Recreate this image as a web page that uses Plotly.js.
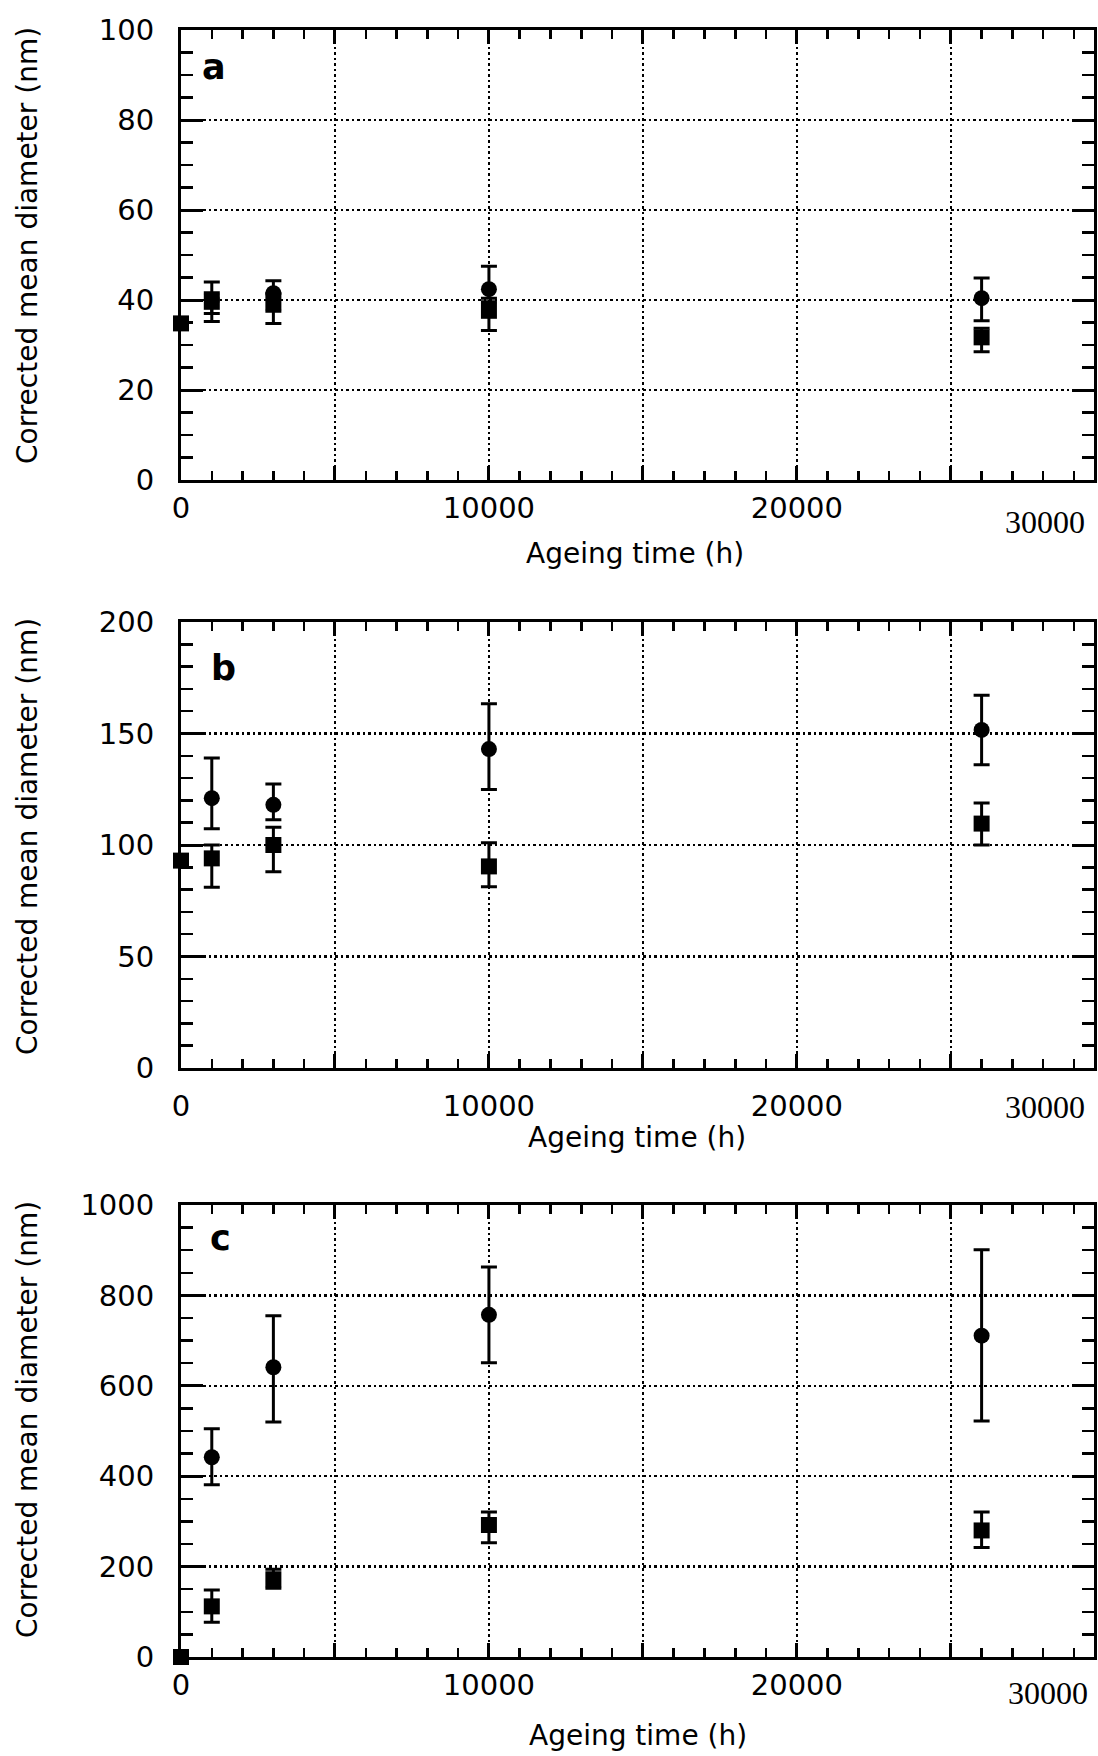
<!DOCTYPE html>
<html><head><meta charset="utf-8">
<script src="https://cdn.plot.ly/plotly-3.0.1.min.js"></script>
<style>html,body{margin:0;padding:0;background:#fff}</style>
</head><body>
<div id="chart" style="width:1098px;height:1756px"></div>
<script>
// ---- data ----
const xTickVals = [0, 5000, 10000, 15000, 20000, 25000];
const xTickText = ['0', '', '10000', '', '20000', ''];
const xMax = 29650;

const timeCircle = [1000, 3000, 10000, 26000];
const timeSquare = [0, 1000, 3000, 10000, 26000];

// panel a
const aCircle      = [40, 41.5, 42.4, 40.4];
const aCirclePlus  = [4, 2.8, 5.1, 4.5];
const aCircleMinus = [3, 4, 2, 5];
const aSquare      = [34.8, 39.6, 39.5, 37.6, 31.7];
const aSquarePlus  = [0, 2, 2, 2, 2];
const aSquareMinus = [0, 4.4, 4.7, 4.4, 3.2];
const aTicks = [0, 20, 40, 60, 80, 100];

// panel b
const bCircle      = [121, 118, 143, 151.6];
const bCirclePlus  = [18, 9.4, 20.3, 15.6];
const bCircleMinus = [13.7, 6.7, 18.1, 15.6];
const bSquare      = [93, 94, 100, 90.4, 109.6];
const bSquarePlus  = [0, 6, 8, 10.6, 9.2];
const bSquareMinus = [0, 13, 12, 9.1, 9.6];
const bTicks = [0, 50, 100, 150, 200];

// panel c
const cCircle      = [442, 641, 757, 711];
const cCirclePlus  = [63, 114, 106, 190];
const cCircleMinus = [61, 121, 106, 189];
const cSquare      = [0, 112, 172, 292, 280];
const cSquarePlus  = [0, 36, 22, 29, 41];
const cSquareMinus = [0, 35, 20, 39, 38];
const cTicks = [0, 200, 400, 600, 800, 1000];

const yTitle = 'Corrected mean diameter (nm)';
const xTitle = 'Ageing time (h)';
const lastXLabel = '30000';
const panelLetters = ['a', 'b', 'c'];

// ---- build ----
const W = 1098, H = 1756;
const px = v => v / W;
const py = v => 1 - v / H;
const FONT = 'DejaVu Sans';

function mk(x, y, plus, minus, symbol, xa, ya) {
  return {
    type: 'scatter', mode: 'markers', x: x, y: y, xaxis: xa, yaxis: ya,
    cliponaxis: false, showlegend: false, hoverinfo: 'skip',
    marker: { symbol: symbol, size: 16, color: 'black', line: { width: 0 } },
    error_y: { type: 'data', symmetric: false, array: plus, arrayminus: minus,
               color: 'black', thickness: 3, width: 8 }
  };
}

const data = [
  mk(timeCircle, aCircle, aCirclePlus, aCircleMinus, 'circle', 'x', 'y'),
  mk(timeSquare, aSquare, aSquarePlus, aSquareMinus, 'square', 'x', 'y'),
  mk(timeCircle, bCircle, bCirclePlus, bCircleMinus, 'circle', 'x2', 'y2'),
  mk(timeSquare, bSquare, bSquarePlus, bSquareMinus, 'square', 'x2', 'y2'),
  mk(timeCircle, cCircle, cCirclePlus, cCircleMinus, 'circle', 'x3', 'y3'),
  mk(timeSquare, cSquare, cSquarePlus, cSquareMinus, 'square', 'x3', 'y3')
];

const XDOM = [px(181), px(1094)];
const GRID = { showgrid: true, gridcolor: 'black', gridwidth: 2.5, griddash: '2.5px,3px' };
function xax(anchor, standoff) {
  return Object.assign({
    domain: XDOM, range: [0, xMax], anchor: anchor,
    tickmode: 'array', tickvals: xTickVals, ticktext: xTickText,
    ticks: 'inside', ticklen: 14, tickwidth: 3, tickcolor: 'black',
    showline: true, linewidth: 3, linecolor: 'black', mirror: 'ticks',
    zeroline: false, ticklabelstandoff: standoff,
    tickfont: { family: FONT, size: 29, color: 'black' },
    minor: { tickmode: 'linear', tick0: 0, dtick: 1000, ticks: 'inside', ticklen: 9,
             tickwidth: 2.5, tickcolor: 'black', showgrid: false },
    fixedrange: true
  }, GRID);
}
function yax(anchor, top, bottom, max, tv, minorStep) {
  return Object.assign({
    domain: [py(bottom), py(top)], range: [0, max], anchor: anchor,
    tickmode: 'array', tickvals: tv,
    ticks: 'inside', ticklen: 22, tickwidth: 3, tickcolor: 'black',
    showline: true, linewidth: 3, linecolor: 'black', mirror: 'ticks',
    zeroline: false, ticklabelstandoff: 18,
    tickfont: { family: FONT, size: 29, color: 'black' },
    minor: { tickmode: 'linear', tick0: 0, dtick: minorStep, ticks: 'inside', ticklen: 12,
             tickwidth: 2.5, tickcolor: 'black', showgrid: false },
    fixedrange: true
  }, GRID);
}

function ann(text, x, y, size, opts) {
  return Object.assign({
    text: text, xref: 'paper', yref: 'paper', x: px(x), y: py(y),
    xanchor: 'center', yanchor: 'middle', showarrow: false,
    font: { family: FONT, size: size, color: 'black' }
  }, opts || {});
}
const serif = { font: { family: 'Liberation Serif', size: 32, color: 'black' } };

const annotations = [
  ann(yTitle, 27, 246, 28, { textangle: -90 }),
  ann(yTitle, 27, 837, 28, { textangle: -90 }),
  ann(yTitle, 27, 1420, 28, { textangle: -90 }),
  ann(xTitle, 635, 553, 28),
  ann(xTitle, 637, 1137, 28),
  ann(xTitle, 638, 1735, 28),
  ann(lastXLabel, 1045, 522, 32, serif),
  ann(lastXLabel, 1045, 1107, 32, serif),
  ann(lastXLabel, 1048, 1693, 32, serif),
  ann('<b>' + panelLetters[0] + '</b>', 214, 67, 35),
  ann('<b>' + panelLetters[1] + '</b>', 223, 668, 35),
  ann('<b>' + panelLetters[2] + '</b>', 220, 1238, 35)
];

const layout = {
  width: W, height: H,
  margin: { l: 0, r: 0, t: 0, b: 0, pad: 0 },
  paper_bgcolor: 'white', plot_bgcolor: 'white',
  showlegend: false,
  font: { family: FONT, color: 'black' },
  xaxis: xax('y', 0),
  xaxis2: xax('y2', 10),
  xaxis3: xax('y3', 0),
  yaxis: yax('x', 30, 480, 100, aTicks, 5),
  yaxis2: yax('x2', 622, 1068, 200, bTicks, 10),
  yaxis3: yax('x3', 1205, 1657, 1000, cTicks, 50),
  annotations: annotations
};

Plotly.newPlot('chart', data, layout, { staticPlot: true, displayModeBar: false });
</script>
</body></html>
